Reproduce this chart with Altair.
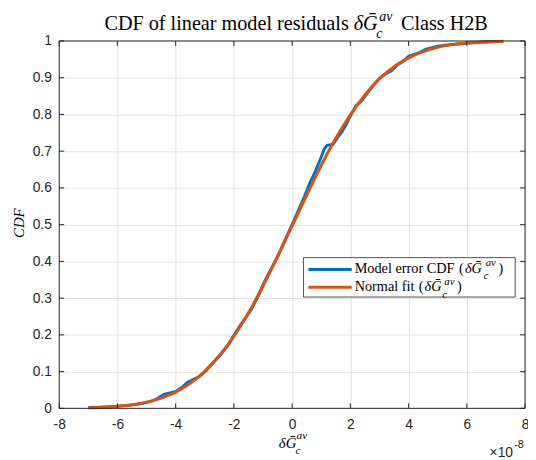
import altair as alt
import pandas as pd

# ---- data (x in units of 1e-8) ----
BLUE_X = [-7.00, -6.60, -6.20, -6.00, -5.60, -5.20, -5.00, -4.80, -4.60, -4.40, -4.20, -4.00,
          -3.80, -3.60, -3.40, -3.20, -3.00, -2.80, -2.60, -2.40, -2.20, -2.00, -1.80, -1.60,
          -1.40, -1.20, -1.00, -0.80, -0.60, -0.40, -0.20, 0.00, 0.20, 0.40, 0.60, 0.80,
          1.00, 1.10, 1.20, 1.40, 1.55, 1.70, 1.85, 2.00, 2.20, 2.40, 2.60, 2.80, 3.00,
          3.20, 3.40, 3.60, 3.80, 4.00, 4.30, 4.60, 5.00, 5.40, 6.00, 6.60, 7.25]
BLUE_Y = [0.002, 0.003, 0.004, 0.006, 0.008, 0.012, 0.016, 0.020, 0.028, 0.038, 0.042, 0.046,
          0.056, 0.070, 0.078, 0.086, 0.100, 0.117, 0.134, 0.152, 0.172, 0.198, 0.224, 0.246,
          0.270, 0.300, 0.336, 0.368, 0.398, 0.430, 0.466, 0.500, 0.536, 0.572, 0.612, 0.646,
          0.684, 0.706, 0.716, 0.718, 0.736, 0.752, 0.772, 0.796, 0.824, 0.838, 0.860, 0.880, 0.898,
          0.910, 0.918, 0.934, 0.944, 0.958, 0.966, 0.978, 0.986, 0.990, 0.994, 0.997, 0.999]

ORANGE_X = [-7.0, -6.5, -6.0, -5.5, -5.0, -4.5, -4.0, -3.5, -3.0, -2.5,
            -2.0, -1.5, -1.0, -0.5, 0.0, 0.5, 1.0, 1.5, 2.0, 2.5,
            3.0, 3.5, 4.0, 4.5, 5.0, 5.5, 6.0, 6.5, 7.0, 7.25]
ORANGE_Y = [0.0015, 0.003, 0.0055, 0.0097, 0.0167, 0.028, 0.044, 0.068, 0.100, 0.143,
            0.196, 0.260, 0.333, 0.413, 0.497, 0.580, 0.661, 0.735, 0.799, 0.853,
            0.897, 0.930, 0.954, 0.971, 0.983, 0.990, 0.9944, 0.997, 0.9985, 0.9988]

X_TICKS = [-8, -6, -4, -2, 0, 2, 4, 6, 8]
Y_TICKS = [0, 0.1, 0.2, 0.3, 0.4, 0.5, 0.6, 0.7, 0.8, 0.9, 1]

BLUE = "#0072BD"
ORANGE = "#D95319"
AXC = "#262626"
GRID = "#e2e2e2"
SERIF = "Liberation Serif"
SANS = "Liberation Sans"

W, H = 473, 373

xs = alt.Scale(domain=[-8, 8], nice=False, zero=False)
ys = alt.Scale(domain=[0, 1], nice=False, zero=False)

xaxis = alt.Axis(values=X_TICKS, grid=True, gridColor=GRID, ticks=False, domain=False,
                 labelExpr="replace(datum.label, '\u2212', '-')", labelFont=SANS, labelFontSize=14,
                 labelColor=AXC, labelPadding=9, labelFlush=False, labelOverlap=False, title=None)
yaxis = alt.Axis(values=Y_TICKS, format="~g", grid=True, gridColor=GRID, ticks=False,
                 domain=False, labelFont=SANS, labelFontSize=14, labelColor=AXC, labelPadding=8,
                 labelFlush=False, labelOverlap=False, title=None)

df_blue = pd.DataFrame({"x": BLUE_X, "y": BLUE_Y})
df_orange = pd.DataFrame({"x": ORANGE_X, "y": ORANGE_Y})
df_xt = pd.DataFrame({"v": X_TICKS})
df_yt = pd.DataFrame({"v": Y_TICKS})


def X(f):
    return alt.X(f, scale=xs, axis=xaxis, title=None)


def Y(f):
    return alt.Y(f, scale=ys, axis=yaxis, title=None)


blue = alt.Chart(df_blue).mark_line(color=BLUE, strokeWidth=3).encode(x=X("x:Q"), y=Y("y:Q"))
orange = alt.Chart(df_orange).mark_line(color=ORANGE, strokeWidth=3, interpolate="monotone").encode(
    x=X("x:Q"), y=Y("y:Q"))

TL = 5
xt_bot = alt.Chart(df_xt).mark_rule(color=AXC, strokeWidth=1).encode(
    x=X("v:Q"), y=alt.value(H), y2=alt.value(H - TL))
xt_top = alt.Chart(df_xt).mark_rule(color=AXC, strokeWidth=1).encode(
    x=X("v:Q"), y=alt.value(0), y2=alt.value(TL))
yt_left = alt.Chart(df_yt).mark_rule(color=AXC, strokeWidth=1).encode(
    y=Y("v:Q"), x=alt.value(0), x2=alt.value(TL))
yt_right = alt.Chart(df_yt).mark_rule(color=AXC, strokeWidth=1).encode(
    y=Y("v:Q"), x=alt.value(W), x2=alt.value(W - TL))

one = pd.DataFrame({"a": [0]})
box = alt.Chart(one).mark_rect(fill="transparent", stroke=AXC, strokeWidth=1).encode(
    x=alt.value(0), x2=alt.value(W), y=alt.value(0), y2=alt.value(H))

leg_box = alt.Chart(one).mark_rect(fill="white", stroke=AXC, strokeWidth=0.8).encode(
    x=alt.value(248), x2=alt.value(463), y=alt.value(220), y2=alt.value(260))
leg_blue = alt.Chart(one).mark_rule(color=BLUE, strokeWidth=3).encode(
    x=alt.value(253), x2=alt.value(297), y=alt.value(232))
leg_orange = alt.Chart(one).mark_rule(color=ORANGE, strokeWidth=3).encode(
    x=alt.value(253), x2=alt.value(297), y=alt.value(250))


def txt(s, x, y, size, font=SERIF, style="normal", align="left", baseline="alphabetic",
        angle=0, color="#000000"):
    return alt.Chart(pd.DataFrame({"t": [s]})).mark_text(
        align=align, baseline=baseline, font=font, fontSize=size, fontStyle=style,
        color=color, angle=angle).encode(x=alt.value(x), y=alt.value(y), text="t:N")


texts = [
    # title
    txt("CDF of linear model residuals", 294, -11, 20.5, align="right"),
    txt("\u03b4\u1e20", 299, -11, 20.5, style="italic"),
    txt("av", 325, -20, 14, style="italic"),
    txt("c", 322, -3, 14, style="italic"),
    txt("Class H2B", 347, -11, 20.5),
    # legend row 1
    txt("Model error CDF", 300, 235.5, 14.5),
    txt("(", 406, 235.5, 14.5),
    txt("\u03b4\u1e20", 412, 235.5, 14.5, style="italic"),
    txt("av", 433, 228, 11, style="italic"),
    txt("c", 431, 242, 11, style="italic"),
    txt(")", 446, 235.5, 14.5),
    # legend row 2
    txt("Normal fit", 300, 254, 14.5),
    txt("(", 365, 254, 14.5),
    txt("\u03b4\u1e20", 371, 254, 14.5, style="italic"),
    txt("av", 391, 247.5, 11, style="italic"),
    txt("c", 389, 260.5, 11, style="italic"),
    txt(")", 404, 254, 14.5),
    # x label
    txt("\u03b4\u1e20", 223, 413, 15, style="italic"),
    txt("av", 241, 404.5, 11.5, style="italic"),
    txt("c", 240, 419, 11.5, style="italic"),
    # exponent
    txt("\u00d710", 437, 422, 14, font=SANS, color=AXC),
    txt("-8", 462, 413, 11, font=SANS, color=AXC),
    # y label
    txt("CDF", -41, 185, 15, style="italic", align="center", baseline="middle", angle=270),
]

chart = alt.layer(
    blue, orange, xt_bot, xt_top, yt_left, yt_right, box,
    leg_box, leg_blue, leg_orange, *texts
).properties(
    width=W, height=H,
    padding={"left": 52, "top": 30, "right": 3, "bottom": 49},
    autosize=alt.AutoSizeParams(type="none"),
    background="white",
).configure_view(stroke=None)

chart.save("out.html", embed_options={"renderer": "svg", "actions": False})
